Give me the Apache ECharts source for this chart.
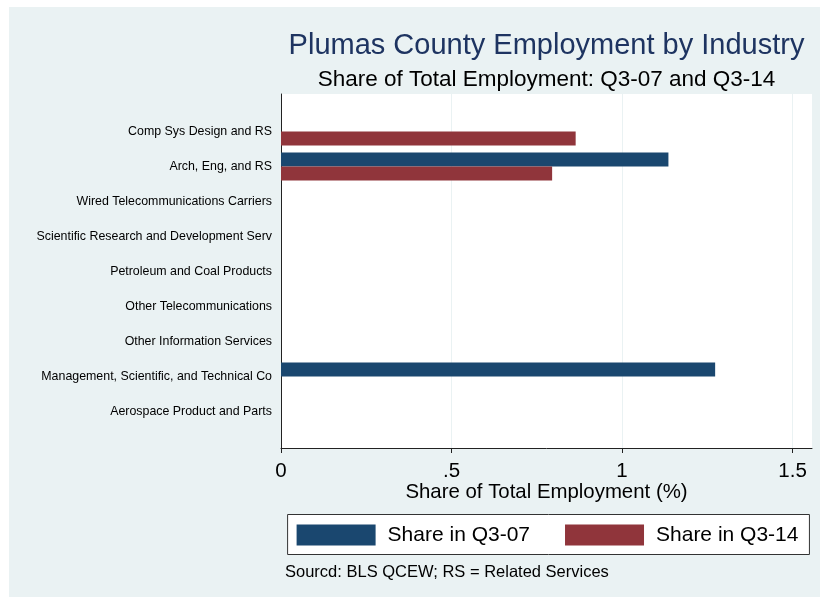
<!DOCTYPE html>
<html>
<head>
<meta charset="utf-8">
<script src="https://cdn.jsdelivr.net/npm/echarts@6/dist/echarts.min.js"></script>
<style>
	html, body { margin: 0; padding: 0; background: #fff; }
	#chart { position: absolute; left: 9px; top: 7px; width: 811px; height: 590px; }
</style>
</head>
<body>
<div id="chart"></div>
<script>
// industries, top to bottom
const industries = [
	"Comp Sys Design and RS",
	"Arch, Eng, and RS",
	"Wired Telecommunications Carriers",
	"Scientific Research and Development Serv",
	"Petroleum and Coal Products",
	"Other Telecommunications",
	"Other Information Services",
	"Management, Scientific, and Technical Co",
	"Aerospace Product and Parts",
]
const shareQ307 = [null, 1.136, null, null, null, null, null, 1.273, null]
const shareQ314 = [0.864, 0.795, null, null, null, null, null, null, null]
const xTicks = [0, 0.5, 1, 1.5]
const xTickLabels = ["0", ".5", "1", "1.5"]

const navy = "#1a476f"
const maroon = "#90353b"
const font = "Liberation Sans, Arial, Helvetica, sans-serif"
const xMax = 1.557

const chart = echarts.init(document.getElementById("chart"))
chart.setOption({
	backgroundColor: "#eaf2f3",
	animation: false,
	textStyle: { fontFamily: font },
	grid: [
		// plot region with value axis
		{ left: 272, right: 8, top: 87, bottom: 149, show: true, backgroundColor: "#fff", borderWidth: 0 },
		// bars
		{ left: 272, right: 8, top: 107, height: 315 },
	],
	xAxis: [
		{
			gridIndex: 0,
			type: "value",
			min: 0,
			max: xMax,
			interval: 0.5,
			axisLine: { show: true, lineStyle: { color: "#222", width: 1 } },
			axisTick: { show: true, length: 5, lineStyle: { color: "#222" }, customValues: xTicks },
			axisLabel: {
				customValues: xTicks,
				formatter: v => xTickLabels[xTicks.indexOf(v)] ?? "",
				fontSize: 20.5,
				lineHeight: 20,
				color: "#000",
				margin: 13,
			},
			splitLine: { show: true, lineStyle: { color: "#eaf2f3", width: 1 } },
		},
		{ gridIndex: 1, type: "value", min: 0, max: xMax, show: false },
	],
	yAxis: [
		{
			gridIndex: 0,
			type: "value",
			min: 0,
			max: 1,
			axisLine: { show: true, lineStyle: { color: "#222", width: 1 } },
			axisTick: { show: false },
			axisLabel: { show: false },
			splitLine: { show: false },
		},
		{
			gridIndex: 1,
			type: "category",
			inverse: true,
			data: industries,
			axisLine: { show: false },
			axisTick: { show: false },
			axisLabel: { fontSize: 12.4, color: "#000", margin: 9 },
		},
	],
	legend: {
		left: 278.6,
		top: 507.5,
		orient: "horizontal",
		itemWidth: 79,
		itemHeight: 21,
		itemGap: 35,
		icon: "rect",
		padding: [10, 11, 9, 9],
		backgroundColor: "#fff",
		borderColor: "#333",
		borderWidth: 1,
		borderRadius: 0,
		textStyle: { fontSize: 21, lineHeight: 21, color: "#000", padding: [0, 0, 0, 7] },
		data: ["Share in Q3-07", "Share in Q3-14"],
	},
	series: [
		{
			name: "Share in Q3-07",
			type: "bar",
			xAxisIndex: 1,
			yAxisIndex: 1,
			data: shareQ307,
			barWidth: 14,
			barGap: "0%",
			itemStyle: { color: navy },
		},
		{
			name: "Share in Q3-14",
			type: "bar",
			xAxisIndex: 1,
			yAxisIndex: 1,
			data: shareQ314,
			barWidth: 14,
			barGap: "0%",
			itemStyle: { color: maroon },
		},
	],
	graphic: [
		{
			type: "text",
			style: {
				text: "Plumas County Employment by Industry",
				x: 537.5, y: 39,
				align: "center", verticalAlign: "middle",
				fontSize: 29, fontFamily: font, fill: "#1e3461",
			},
		},
		{
			type: "text",
			style: {
				text: "Share of Total Employment: Q3-07 and Q3-14",
				x: 537.5, y: 72.5,
				align: "center", verticalAlign: "middle",
				fontSize: 22.5, fontFamily: font, fill: "#000",
			},
		},
		{
			type: "text",
			style: {
				text: "Share of Total Employment (%)",
				x: 537.5, y: 485.5,
				align: "center", verticalAlign: "middle",
				fontSize: 20.4, fontFamily: font, fill: "#000",
			},
		},
		{
			type: "text",
			style: {
				text: "Sourcd: BLS QCEW; RS = Related Services",
				x: 276, y: 565,
				align: "left", verticalAlign: "middle",
				fontSize: 16.5, fontFamily: font, fill: "#000",
			},
		},
	],
})
</script>
</body>
</html>
